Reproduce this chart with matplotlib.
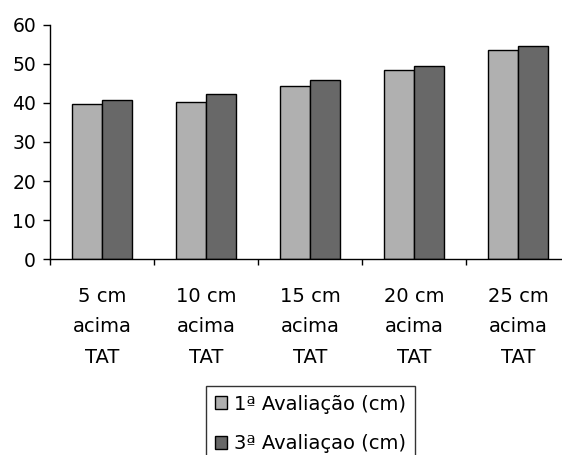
import numpy as np
import matplotlib
matplotlib.use("Agg")
import matplotlib.pyplot as plt

# alturas medidas por posição acima da TAT
categorias = ["5 cm\nacima\nTAT", "10 cm\nacima\nTAT", "15 cm\nacima\nTAT",
              "20 cm\nacima\nTAT", "25 cm\nacima\nTAT"]
aval_1 = [39.7, 40.2, 44.3, 48.4, 53.5]
aval_3 = [40.7, 42.2, 45.8, 49.4, 54.5]
series = ["1ª Avaliação (cm)", "3ª Avaliaçao (cm)"]

plt.rcParams["font.family"] = ["DejaVu Sans"]

fig = plt.figure(figsize=(5.62, 4.55), dpi=100)
# eixo y em x=50px, zero em y=259px, 60 em y=24.5px
ax = fig.add_axes([50 / 562, 1 - 259.3 / 455, 1 - 50 / 562, (259.3 - 24.5) / 455])

x = np.arange(len(categorias))
w = 0.29
ax.bar(x - w / 2, aval_1, w, color="#b0b0b0", edgecolor="black", linewidth=1.0,
       label=series[0])
ax.bar(x + w / 2, aval_3, w, color="#686868", edgecolor="black", linewidth=1.0,
       label=series[1])

ax.set_ylim(0, 60)
ax.set_xlim(-0.5, -0.5 + 512 / 104)
ax.set_yticks(range(0, 61, 10))
ax.tick_params(axis="y", direction="out", length=5, width=1, labelsize=13.5, pad=5)

ax.set_xticks(x)
ax.set_xticklabels(categorias, fontsize=14, linespacing=1.75)
ax.tick_params(axis="x", which="major", length=0, pad=20)
# marcas entre categorias
ax.set_xticks(np.arange(-0.5, 4.0, 1), minor=True)
ax.tick_params(axis="x", which="minor", direction="out", length=4.5, width=1)

for s in ("top", "right"):
    ax.spines[s].set_visible(False)
for s in ("left", "bottom"):
    ax.spines[s].set_linewidth(1.0)

leg = fig.legend(loc="upper left", bbox_to_anchor=(206 / 562, 1 - 386 / 455),
                 fontsize=14, frameon=True, fancybox=False, edgecolor="black",
                 handlelength=0.65, handleheight=0.65, handletextpad=0.35,
                 borderpad=0.45, labelspacing=1.05, borderaxespad=0)
leg.get_frame().set_linewidth(1.0)

fig.savefig("out.png", dpi=100)
